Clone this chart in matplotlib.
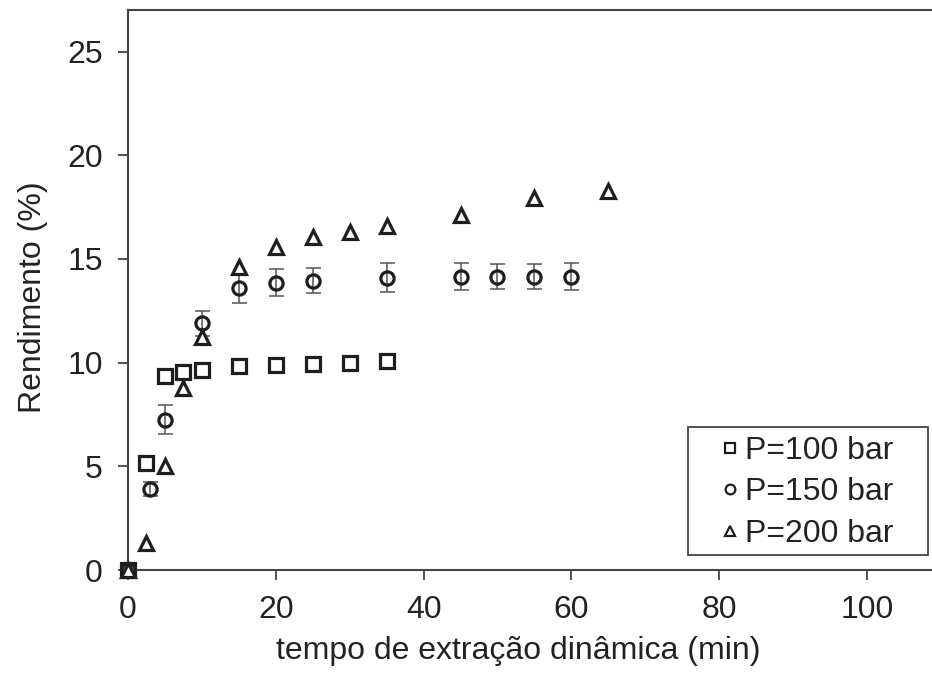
import matplotlib
matplotlib.use("Agg")
import matplotlib.pyplot as plt
from matplotlib.patches import Rectangle

plt.rcParams['font.family'] = ['Liberation Sans', 'DejaVu Sans']

# P=100 bar
t100 = [0, 2.5, 5, 7.5, 10, 15, 20, 25, 30, 35]
y100 = [0, 5.15, 9.35, 9.55, 9.65, 9.85, 9.9, 9.95, 10.0, 10.1]

# P=150 bar
t150 = [0, 3, 5, 10, 15, 20, 25, 35, 45, 50, 55, 60]
y150 = [0, 3.9, 7.25, 11.9, 13.6, 13.85, 13.95, 14.1, 14.15, 14.15, 14.15, 14.15]
e150 = [0, 0.35, 0.7, 0.6, 0.7, 0.65, 0.6, 0.7, 0.65, 0.6, 0.6, 0.65]

# P=200 bar
t200 = [0, 2.5, 5, 7.5, 10, 15, 20, 25, 30, 35, 45, 55, 65]
y200 = [0, 1.3, 5.0, 8.8, 11.25, 14.6, 15.6, 16.05, 16.3, 16.6, 17.1, 17.95, 18.3]

ink = '#1e1e1e'
fig = plt.figure(figsize=(9.32, 6.77), dpi=100)
ax = fig.add_axes([0.1373, 0.158, 0.8627, 0.827])

ax.errorbar(t150, y150, yerr=e150, fmt='none', ecolor='#555555', elinewidth=1.1,
            capsize=5.4, capthick=1.1, zorder=2, clip_on=False)
ax.plot(t100, y100, 's', ms=9.5, mfc='white', mec=ink, mew=2.3, ls='none',
        label='P=100 bar', zorder=3, clip_on=False)
ax.plot(t150, y150, 'o', ms=9.5, mfc='none', mec=ink, mew=2.3, ls='none',
        label='P=150 bar', zorder=3, clip_on=False)
ax.plot(t200, y200, '^', ms=10, mfc='white', mec=ink, mew=2.3, ls='none',
        label='P=200 bar', zorder=3, clip_on=False)

ax.set_xlim(0, 108.8)
ax.set_ylim(0, 27.0)
ax.set_xticks([0, 20, 40, 60, 80, 100])
ax.set_yticks([0, 5, 10, 15, 20, 25])
ax.tick_params(direction='out', length=7, width=1.3, color='#444444', labelsize=23,
               labelcolor='#222222')
ax.tick_params(axis='x', pad=11)
ax.tick_params(axis='y', pad=11)
for s in ['left', 'bottom', 'top']:
    ax.spines[s].set_color('#444444')
    ax.spines[s].set_linewidth(1.5)
ax.spines['right'].set_visible(False)

ax.set_xlabel('tempo de extração dinâmica (min)', fontsize=23, color='#222222', labelpad=8)
ax.xaxis.label.set_x(0.485)
ax.set_ylabel('Rendimento (%)', fontsize=23, color='#222222', labelpad=14)
ax.yaxis.label.set_y(0.4875)

leg = ax.legend(loc='lower right', bbox_to_anchor=(0.9515, 0.038), fontsize=23,
                frameon=False, handlelength=0.6, handletextpad=0.15,
                labelspacing=0.36, borderpad=0.0, borderaxespad=0.0)
for h in leg.legend_handles:
    h.set_markersize(7)
    h.set_markeredgewidth(1.6)
    h.set_markerfacecolor('white')
for txt in leg.get_texts():
    txt.set_color('#222222')
ax.add_patch(Rectangle((0.6965, 0.0268), 0.2985, 0.2286, transform=ax.transAxes,
                       fill=False, edgecolor='#444444', lw=1.3, zorder=5))

fig.savefig('out.png', dpi=100)
